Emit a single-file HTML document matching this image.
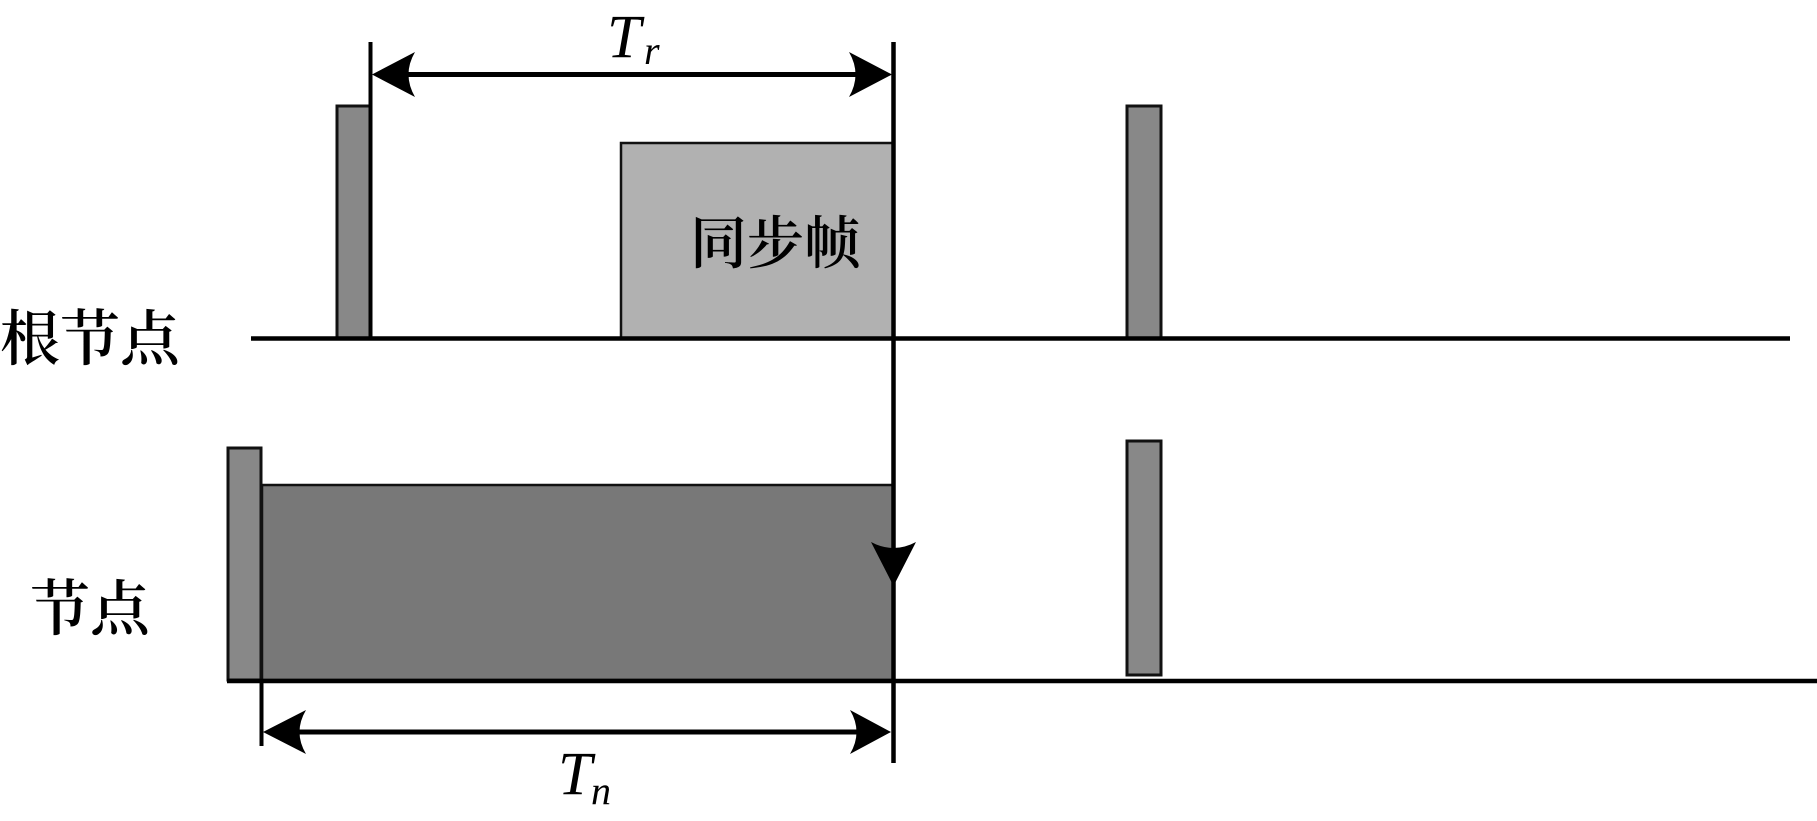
<!DOCTYPE html>
<html>
<head>
<meta charset="utf-8">
<style>
html,body{margin:0;padding:0;background:#fff;}
svg{display:block;}
</style>
</head>
<body>
<svg width="1817" height="821" viewBox="0 0 1817 821" xmlns="http://www.w3.org/2000/svg">
  <rect width="1817" height="821" fill="#fff"/>

  <!-- Root node row -->
  <rect x="621" y="143" width="272" height="195" fill="#b1b1b1" stroke="#111" stroke-width="2.5"/>
  <rect x="337" y="106" width="33" height="232" fill="#888" stroke="#111" stroke-width="3"/>
  <rect x="1127" y="106" width="34" height="232" fill="#888" stroke="#111" stroke-width="3"/>
  <line x1="251" y1="338.5" x2="1790" y2="338.5" stroke="#000" stroke-width="4.5"/>

  <!-- Node row -->
  <rect x="262" y="485" width="631" height="195" fill="#787878" stroke="#111" stroke-width="2.5"/>
  <rect x="228" y="448" width="33" height="232" fill="#888" stroke="#111" stroke-width="3"/>
  <rect x="1127" y="441" width="34" height="234" fill="#888" stroke="#111" stroke-width="3"/>
  <line x1="227" y1="681" x2="1817" y2="681" stroke="#000" stroke-width="4.5"/>

  <!-- vertical dimension lines -->
  <line x1="370.5" y1="42" x2="370.5" y2="338" stroke="#000" stroke-width="4"/>
  <line x1="893.5" y1="42" x2="893.5" y2="763" stroke="#000" stroke-width="4.5"/>
  <line x1="261.5" y1="681" x2="261.5" y2="746" stroke="#000" stroke-width="4"/>

  <!-- Tr arrow -->
  <line x1="380" y1="74.5" x2="885" y2="74.5" stroke="#000" stroke-width="5"/>
  <path d="M372,74.5 L415,52 Q402,74.5 415,97 Z" fill="#000"/>
  <path d="M892,74.5 L849,52 Q862,74.5 849,97 Z" fill="#000"/>

  <!-- Tn arrow -->
  <line x1="270" y1="732" x2="885" y2="732" stroke="#000" stroke-width="5"/>
  <path d="M263,732 L306,710 Q293,732 306,754 Z" fill="#000"/>
  <path d="M891,732 L850,710 Q863,732 850,754 Z" fill="#000"/>

  <!-- down arrow -->
  <path d="M893.5,586 L871,542 Q893.5,554 916,542 Z" fill="#000"/>

  <!-- labels -->
  <text x="0" y="360" font-family="'Noto Serif CJK SC','Noto Sans CJK SC',serif" font-size="60" font-weight="600" fill="#000">根节点</text>
  <text x="30" y="630" font-family="'Noto Serif CJK SC','Noto Sans CJK SC',serif" font-size="60" font-weight="600" fill="#000">节点</text>
  <text x="690" y="263" font-family="'Noto Serif CJK SC','Noto Sans CJK SC',serif" font-size="57" font-weight="600" fill="#000">同步帧</text>

  <text x="607" y="57" font-family="'Liberation Serif',serif" font-style="italic" font-size="61" fill="#000">T</text>
  <text x="644" y="64" font-family="'Liberation Serif',serif" font-style="italic" font-size="40" fill="#000">r</text>

  <text x="558" y="794" font-family="'Liberation Serif',serif" font-style="italic" font-size="61" fill="#000">T</text>
  <text x="591" y="804" font-family="'Liberation Serif',serif" font-style="italic" font-size="40" fill="#000">n</text>
</svg>
</body>
</html>
